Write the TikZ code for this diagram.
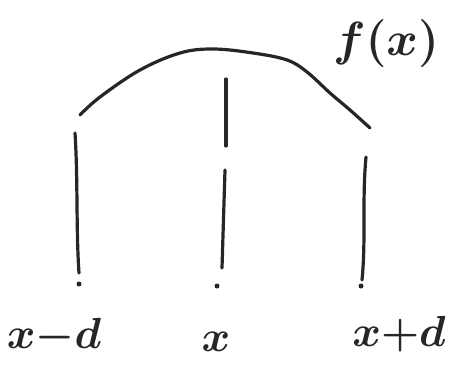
\documentclass[tikz,border=0pt]{standalone}
\tikzset{
  every picture/.style={line width=3.2pt, line cap=round, line join=round},
  pen/.style={draw=black!85},
  tick/.style={circle, fill=black!85, inner sep=0pt, minimum size=5pt},
  lbl/.style={font=\Huge\boldmath, text=black!85, scale=1.75, inner sep=0pt},
}

\begin{document}
\begin{tikzpicture}[x=1pt, y=-1pt]
  \useasboundingbox (0,0) rectangle (455,370);
  % the function
  \draw[pen] plot[smooth, tension=0.6] coordinates {(80,115) (100,97) (140,70) (180,53) (213,49)
    (253,53) (287,60) (307,72) (330,93) (350,110) (370,128)};
  \node[lbl, scale=1.1] (fx) at (386,44) {$f(x)$};
  % sample positions
  \coordinate (lt) at (75,133);  \coordinate (lb) at (79,273);
  \coordinate (mt) at (226,79);  \coordinate (mm) at (226,146);
  \coordinate (mn) at (225,170); \coordinate (mb) at (222,268);
  \coordinate (rt) at (366,157); \coordinate (rb) at (362,280);
  \draw[pen] (lt) .. controls (78,180) and (76,230) .. (lb);
  \draw[pen] (mt) -- (mm);
  \draw[pen] (mn) -- (mb);
  \draw[pen] (rt) .. controls (362,200) and (366,240) .. (rb);
  \node[tick] (ld) at (79,284) {};
  \node[tick] (md) at (217,286) {};
  \node[tick] (rd) at (361,286) {};
  % labels
  \node[lbl] (xl) at (54,336) {$x{-}d$};
  \node[lbl] (xm) at (216,342) {$x$};
  \node[lbl] (xr) at (399,334) {$x{+}d$};
\end{tikzpicture}
\end{document}
